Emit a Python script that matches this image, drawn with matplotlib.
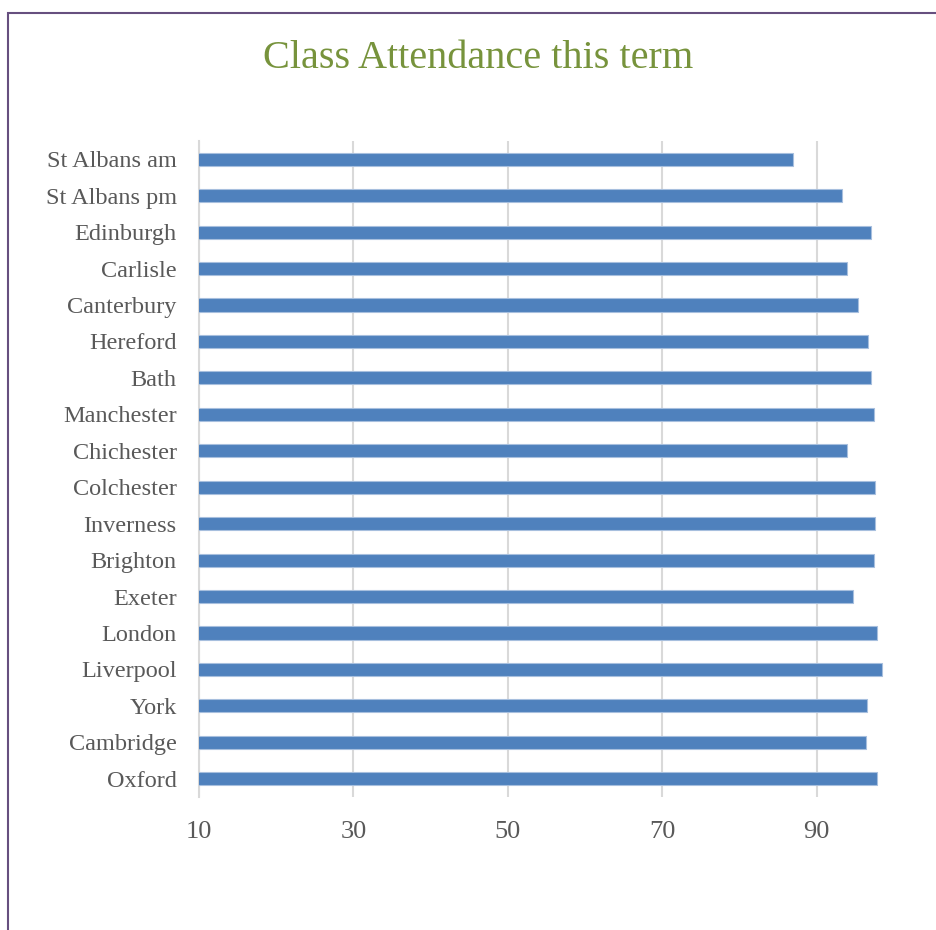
import matplotlib.pyplot as plt
from matplotlib.patches import Rectangle

# data (top to bottom)
campuses = ['St Albans am', 'St Albans pm', 'Edinburgh', 'Carlisle', 'Canterbury',
            'Hereford', 'Bath', 'Manchester', 'Chichester', 'Colchester',
            'Inverness', 'Brighton', 'Exeter', 'London', 'Liverpool', 'York',
            'Cambridge', 'Oxford']
attendance = [87.0, 93.3, 97.0, 93.9, 95.4, 96.7, 97.0, 97.4, 93.9, 97.6,
              97.6, 97.4, 94.7, 97.8, 98.5, 96.5, 96.4, 97.8]
x_ticks = [10, 30, 50, 70, 90]

plt.rcParams['font.family'] = ['Liberation Serif', 'DejaVu Serif']

W, H = 937, 930
fig = plt.figure(figsize=(W / 100, H / 100), dpi=100)

# chart border (cropped on right and bottom like the reference)
fig.patches.append(Rectangle((8.5 / W, -0.1), 1.2, 1 - 13.5 / H + 0.1,
                             transform=fig.transFigure, fill=False,
                             edgecolor='#664F7F', linewidth=1.5))

# plot area: 10 at x=199, 7.72 px per unit, y from 141 to 797
x0 = 199 / W
x1 = (199 + 100 * 7.72) / W
ax = fig.add_axes([x0, 1 - 797 / H, x1 - x0, (797 - 141) / H])

ypos = list(range(len(campuses)))[::-1]
ax.barh(ypos, attendance, left=0, height=0.36, color='#4F81BD',
        edgecolor='#A7BFDE', linewidth=0.8, zorder=3)

ax.set_xlim(10, 110)
ax.set_ylim(-0.5, len(campuses) - 0.5)
ax.set_xticks(x_ticks)
ax.set_yticks(ypos)
ax.set_yticklabels(campuses)
# gridline at 110 lies outside the visible area anyway
ax.grid(axis='x', color='#D9D9D9', linewidth=1.5, zorder=0)
ax.tick_params(axis='both', length=0, colors='#595959')
ax.tick_params(axis='y', labelsize=17.5, pad=16)
ax.tick_params(axis='x', labelsize=19, pad=17)
for side in ['top', 'right', 'bottom']:
    ax.spines[side].set_visible(False)
ax.spines['left'].set_color('#D9D9D9')
ax.spines['left'].set_linewidth(1.5)

fig.text(478 / W, 1 - 58 / H, 'Class Attendance this term', ha='center',
         va='center', fontsize=29, color='#77933C')

fig.savefig('out.png', dpi=100)
